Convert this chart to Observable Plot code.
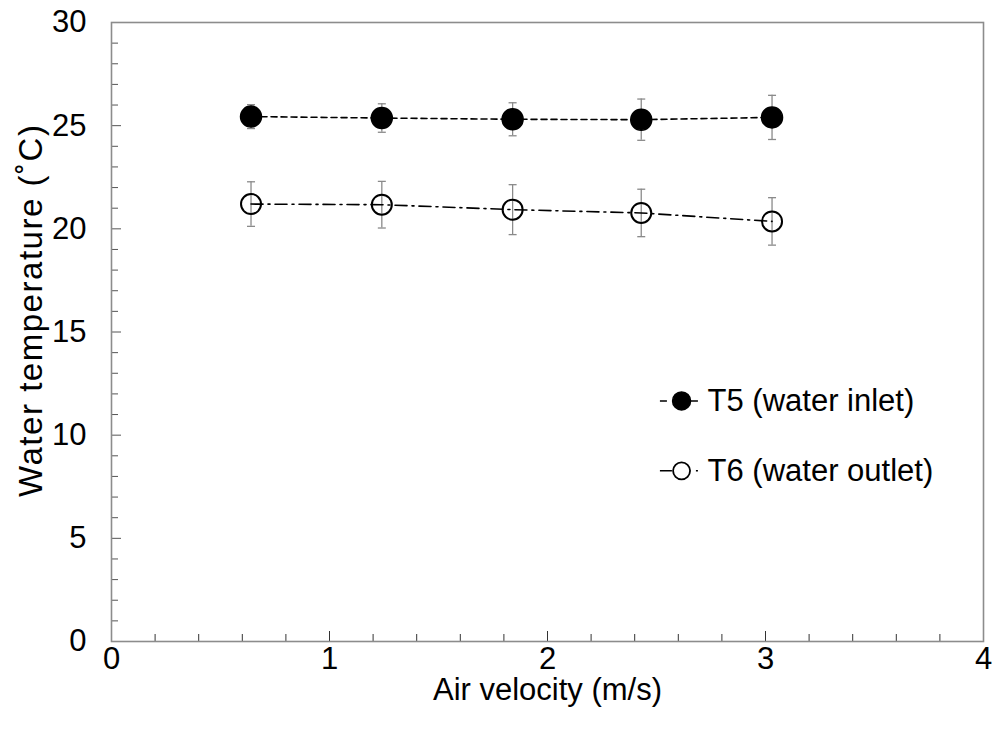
<!DOCTYPE html>
<html><head><meta charset="utf-8">
<script src="https://cdn.jsdelivr.net/npm/d3@7"></script>
<script src="https://cdn.jsdelivr.net/npm/@observablehq/plot@0.6"></script>
<style>body{margin:0;background:#fff} #chart svg{display:block}</style>
</head><body><div id="chart"></div>
<script>
// Data
const airVelocity = [0.64, 1.24, 1.84, 2.43, 3.03];
const t5Inlet  = [25.44, 25.37, 25.31, 25.29, 25.40];
const t5Err    = [0.58, 0.69, 0.80, 1.00, 1.07];
const t6Outlet = [21.20, 21.17, 20.93, 20.77, 20.36];
const t6Err    = [1.08, 1.13, 1.21, 1.15, 1.15];

const seriesNames = ["T5 (water inlet)", "T6 (water outlet)"];
const xMajorTicks = [0, 1, 2, 3, 4];
const xMinorTicks = [0.2, 0.4, 0.6, 0.8, 1.2, 1.4, 1.6, 1.8, 2.2, 2.4, 2.6, 2.8, 3.2, 3.4, 3.6, 3.8];
const yMajorTicks = [0, 5, 10, 15, 20, 25, 30];
const yMinorTicks = [1, 2, 3, 4, 6, 7, 8, 9, 11, 12, 13, 14, 16, 17, 18, 19, 21, 22, 23, 24, 26, 27, 28, 29];
const xLabel = "Air velocity (m/s)";
const yLabel = "Water temperature (\u02DAC)";

// legend placement (data units)
const legendX = 2.615;
const legendY = [11.66, 8.27];

const FS = 31;

const t5 = airVelocity.map((x, i) => ({x, y: t5Inlet[i], e: t5Err[i]}));
const t6 = airVelocity.map((x, i) => ({x, y: t6Outlet[i], e: t6Err[i]}));
const legend = seriesNames.map((name, i) => ({name, y: legendY[i]}));

const cap = {draw(ctx, size) { const r = Math.sqrt(size / Math.PI); ctx.moveTo(-r, 0); ctx.lineTo(r, 0); }};

function errorMarks(data) {
  return [
    Plot.ruleX(data, {x: "x", y1: d => d.y - d.e, y2: d => d.y + d.e, stroke: "#8a8a8a", strokeWidth: 1.3}),
    Plot.dot(data, {x: "x", y: d => d.y - d.e, symbol: cap, r: 4, stroke: "#8a8a8a", strokeWidth: 1.3}),
    Plot.dot(data, {x: "x", y: d => d.y + d.e, symbol: cap, r: 4, stroke: "#8a8a8a", strokeWidth: 1.3})
  ];
}

const chart = Plot.plot({
  width: 995,
  height: 742,
  marginLeft: 111,
  marginRight: 12,
  marginTop: 22,
  marginBottom: 101,
  style: {fontFamily: "'Liberation Sans', Arial, sans-serif", fontSize: FS + "px", color: "black", background: "white"},
  x: {domain: [0, 4], axis: null},
  y: {domain: [0, 30], axis: null},
  marks: [
    Plot.axisX(xMinorTicks, {anchor: "bottom", tickSize: -7, text: null, stroke: "#333", label: null}),
    Plot.axisX(xMajorTicks, {anchor: "bottom", tickSize: -10, tickPadding: 15, stroke: "#333", label: null, tickFormat: d => d, fontSize: FS}),
    Plot.axisY(yMinorTicks, {anchor: "left", tickSize: -7, text: null, stroke: "#555", label: null}),
    Plot.axisY(yMajorTicks, {anchor: "left", tickSize: -10, tickPadding: 35, stroke: "#555", label: null, tickFormat: d => d, fontSize: FS}),
    Plot.frame({stroke: "#8c8c8c", strokeWidth: 1.6}),
    Plot.text([xLabel], {frameAnchor: "bottom", dy: 58, text: d => d, fontSize: FS}),
    Plot.text([yLabel], {frameAnchor: "left", textAnchor: "middle", dx: -80, dy: -21, rotate: -90, text: d => d, fontSize: 33}),
    ...errorMarks(t5),
    ...errorMarks(t6),
    Plot.line(t5, {x: "x", y: "y", stroke: "black", strokeWidth: 1.6, strokeDasharray: "6,4"}),
    Plot.line(t6, {x: "x", y: "y", stroke: "black", strokeWidth: 1.6, strokeDasharray: "12,5,2,5"}),
    Plot.dot(t5, {x: "x", y: "y", r: 10.5, fill: "black", stroke: "black"}),
    Plot.dot(t6, {x: "x", y: "y", r: 10, fill: "none", stroke: "black", strokeWidth: 2}),
    // legend
    Plot.ruleY([legend[0]], {y: "y", x1: legendX - 0.097, x2: legendX + 0.095, stroke: "black", strokeWidth: 1.5, strokeDasharray: "7,24"}),
    Plot.ruleY([legend[1]], {y: "y", x1: legendX - 0.097, x2: legendX + 0.095, stroke: "black", strokeWidth: 1.5, strokeDasharray: "12,24,2,4"}),
    Plot.dot([legend[0]], {x: () => legendX, y: "y", r: 9, fill: "black", stroke: "black"}),
    Plot.dot([legend[1]], {x: () => legendX, y: "y", r: 8.5, fill: "white", stroke: "black", strokeWidth: 1.8}),
    Plot.text(legend, {x: () => legendX, y: "y", text: "name", textAnchor: "start", dx: 26, fontSize: FS})
  ]
});
// widen the rotated y title to the span it has in the reference
d3.select(chart).selectAll("text").filter(function() { return this.textContent === yLabel; })
  .attr("textLength", 372).attr("lengthAdjust", "spacing");
document.getElementById("chart").appendChild(chart);
</script>
</body></html>
